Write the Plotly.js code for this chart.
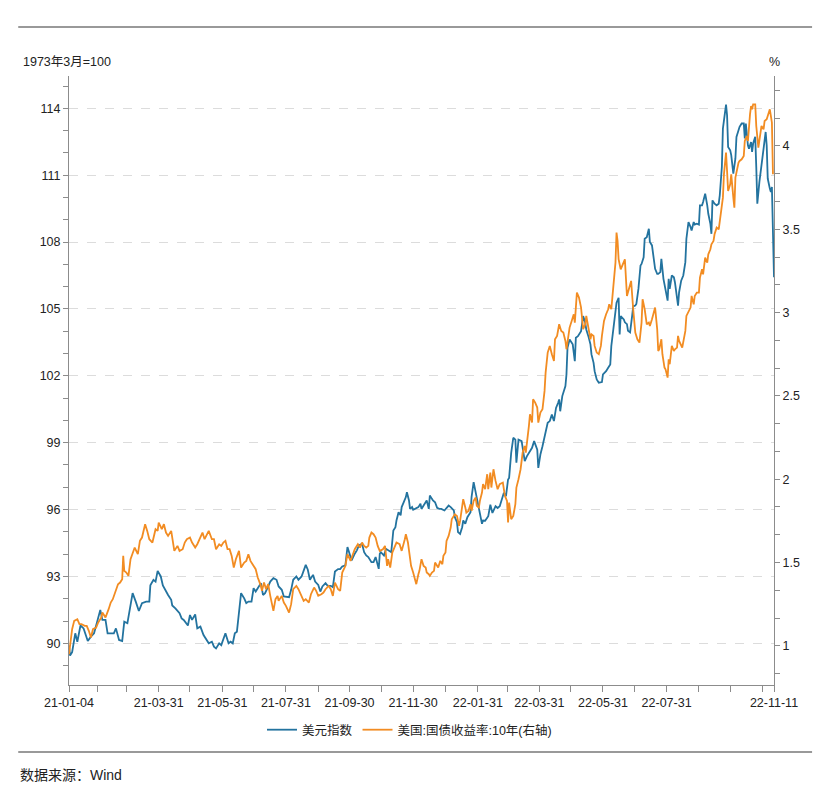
<!DOCTYPE html>
<html>
<head>
<meta charset="utf-8">
<script src="https://cdn.plot.ly/plotly-3.0.1.min.js"></script>
<style>
  html, body { margin: 0; padding: 0; background: #fff; }
  #chart { width: 830px; height: 792px; }
</style>
</head>
<body>
<div id="chart"></div>
<script>
//start date, every day below counts from it
var START = "2021-01-04";

//美元指数: day offset and value
var dxyDay = [
  0, 1, 3, 6, 8, 11, 14, 18, 21, 24,
  27, 30, 32, 35, 37, 40, 43, 45, 48, 51,
  53, 56, 59, 61, 64, 67, 70, 74, 77, 78,
  81, 83, 85, 88, 90, 93, 95, 98, 99, 102,
  106, 108, 110, 114, 116, 118, 121, 123, 126, 129,
  131, 134, 137, 139, 141, 144, 146, 148, 150, 153,
  155, 157, 159, 161, 163, 165, 168, 170, 172, 175,
  177, 179, 181, 184, 186, 188, 191, 193, 196, 199,
  201, 204, 206, 209, 211, 213, 215, 218, 220, 223,
  225, 227, 229, 231, 234, 236, 239, 241, 243, 246,
  248, 251, 253, 255, 258, 260, 262, 265, 267, 270,
  271, 274, 276, 278, 281, 283, 285, 287, 290, 292,
  294, 297, 298, 299, 302, 304, 306, 309, 311, 313,
  314, 316, 318, 319, 321, 323, 324, 326, 327, 329,
  330, 333, 335, 337, 338, 340, 342, 343, 345, 346,
  348, 349, 351, 353, 355, 357, 360, 362, 364, 366,
  369, 370, 372, 373, 375, 377, 378, 380, 382, 385,
  386, 388, 389, 391, 393, 394, 396, 397, 399, 402,
  404, 406, 409, 411, 413, 415, 417, 419, 421, 422,
  424, 426, 428, 429, 431, 434, 435, 437, 439, 441,
  444, 446, 449, 450, 452, 454, 457, 459, 461, 463,
  465, 467, 469, 470, 471, 473, 476, 477, 478, 480,
  483, 485, 486, 488, 491, 493, 495, 496, 498, 500,
  501, 503, 504, 506, 508, 511, 512, 515, 517, 519,
  520, 522, 524, 525, 527, 528, 529, 532, 533, 535,
  536, 538, 540, 541, 543, 544, 546, 548, 549, 551,
  552, 554, 556, 557, 559, 560, 562, 564, 565, 567,
  568, 570, 572, 573, 574, 575, 576, 578, 580, 581,
  583, 584, 585, 587, 589, 591, 592, 594, 596, 597,
  599, 600, 602, 604, 605, 607, 608, 610, 612, 613,
  615, 616, 617, 619, 621, 623, 624, 626, 627, 628,
  630, 631, 632, 634, 635, 637, 639, 640, 642, 643,
  645, 647, 648, 649, 651, 652, 654, 655, 656, 658,
  659, 660, 662, 663, 665, 667, 668, 669, 670, 672,
  673, 674, 675, 676
];
var dxyValue = [
  89.9, 89.45, 89.6, 90.45, 90.07, 90.8, 90.67, 90.1, 90.3, 90.45,
  90.97, 91.5, 91.05, 91.05, 90.45, 90.45, 90.45, 90.67, 90.15, 90.1,
  90.97, 90.9, 91.65, 92.25, 91.87, 91.45, 91.8, 91.87, 91.87, 92.6,
  92.85, 92.77, 93.25, 93.0, 92.6, 92.3, 92.17, 91.95, 91.7, 91.57,
  91.35, 91.12, 91.05, 90.8, 91.27, 91.05, 91.3, 90.67, 90.75, 90.37,
  90.22, 90.0, 90.07, 89.85, 89.77, 90.0, 89.92, 90.15, 90.45, 90.0,
  90.07, 90.0, 90.45, 90.52, 91.35, 92.25, 92.02, 91.8, 91.87, 91.87,
  92.47, 92.32, 92.47, 92.7, 92.17, 92.25, 92.55, 92.77, 92.92, 92.85,
  92.55, 92.4, 92.1, 92.07, 92.07, 92.4, 92.85, 93.0, 92.85, 93.0,
  93.22, 93.52, 93.3, 92.85, 93.07, 92.77, 92.62, 92.32, 92.55, 92.7,
  92.58, 92.58, 92.52, 93.22, 93.33, 93.33, 93.45, 93.5, 94.32, 93.87,
  93.72, 94.02, 94.17, 94.39, 94.46, 94.09, 93.94, 93.87, 93.64, 93.64,
  93.87, 93.34, 94.02, 94.09, 93.94, 94.24, 94.17, 94.09, 95.06, 95.21,
  95.51, 95.88, 95.74, 96.11, 96.33, 96.56, 96.78, 96.41, 96.03, 96.11,
  95.99, 96.08, 96.11, 96.26, 96.03, 96.18, 96.33, 96.41, 96.03, 96.63,
  96.48, 96.41, 96.33, 96.08, 96.03, 96.03, 95.96, 96.08, 96.18, 96.11,
  95.96, 95.66, 95.44, 94.99, 94.91, 95.21, 95.51, 95.36, 95.66, 95.88,
  96.56, 97.23, 97.0, 96.48, 95.96, 95.81, 95.36, 95.51, 95.5, 95.7,
  96.22, 95.85, 96.15, 96.07, 96.15, 96.45, 96.75, 96.6, 97.35, 97.42,
  98.54, 99.22, 99.14, 98.1, 99.14, 99.07, 98.77, 98.17, 98.39, 98.54,
  98.77, 99.07, 98.69, 97.87, 98.47, 98.84, 99.52, 99.89, 99.97, 100.26,
  99.97, 100.56, 100.79, 100.94, 100.41, 101.09, 101.54, 102.06, 103.26, 103.63,
  103.41, 102.66, 103.71, 103.78, 104.0, 104.68, 104.38, 104.08, 103.78, 103.41,
  102.96, 102.58, 102.21, 101.84, 101.69, 101.72, 102.06, 102.21, 102.36, 102.51,
  103.33, 104.23, 104.98, 105.28, 105.5, 103.86, 104.68, 104.53, 104.4, 104.32,
  104.02, 103.95, 104.7, 105.12, 105.15, 105.22, 105.9, 106.95, 107.02, 107.32,
  108.15, 108.22, 108.6, 108.0, 107.85, 107.4, 106.8, 106.57, 106.57, 106.65,
  107.25, 106.35, 105.75, 105.6, 105.37, 106.35, 105.9, 106.5, 106.42, 106.2,
  105.37, 105.15, 105.75, 106.27, 106.5, 107.1, 108.15, 108.9, 108.67, 108.52,
  108.9, 108.78, 108.82, 108.78, 109.65, 109.65, 109.8, 110.17, 109.65, 109.27,
  108.82, 108.37, 109.87, 109.72, 109.65, 109.72, 110.1, 111.37, 113.09, 113.54,
  114.17, 113.69, 112.27, 112.12, 111.9, 111.07, 111.75, 112.72, 113.09, 113.17,
  113.32, 113.32, 112.65, 113.32, 112.34, 112.19, 112.49, 112.04, 112.42, 112.72,
  111.37, 109.72, 110.7, 111.07, 111.6, 112.42, 112.94, 112.34, 110.85, 110.4,
  110.25, 110.47, 108.2, 106.42
];

//美国:国债收益率:10年, %: day offset and value
var ust10Day = [
  0, 3, 5, 8, 10, 12, 15, 17, 19, 21,
  23, 26, 28, 31, 32, 35, 38, 40, 42, 44,
  47, 49, 51, 52, 53, 55, 57, 59, 61, 63,
  66, 68, 70, 73, 75, 77, 80, 83, 85, 86,
  89, 91, 93, 95, 98, 100, 101, 104, 106, 109,
  111, 113, 116, 118, 121, 123, 125, 128, 130, 134,
  137, 139, 141, 144, 146, 148, 150, 152, 154, 156,
  158, 160, 163, 165, 168, 170, 172, 174, 176, 179,
  181, 184, 185, 187, 189, 191, 193, 195, 196, 198,
  200, 201, 204, 206, 208, 211, 213, 215, 218, 220,
  223, 225, 227, 230, 232, 235, 237, 239, 242, 244,
  246, 249, 251, 253, 255, 258, 260, 262, 265, 267,
  270, 272, 274, 277, 279, 281, 283, 285, 287, 288,
  290, 292, 294, 296, 298, 301, 303, 305, 306, 308,
  310, 312, 314, 317, 319, 322, 323, 325, 327, 328,
  330, 331, 333, 335, 336, 338, 340, 342, 343, 345,
  346, 348, 350, 351, 353, 354, 356, 358, 359, 361,
  362, 364, 366, 367, 369, 370, 372, 374, 375, 377,
  378, 380, 381, 383, 385, 386, 388, 390, 391, 393,
  394, 396, 397, 399, 401, 402, 404, 405, 407, 409,
  411, 413, 416, 418, 420, 421, 422, 424, 426, 428,
  429, 431, 433, 435, 437, 438, 440, 441, 442, 444,
  445, 447, 449, 450, 452, 454, 456, 457, 459, 461,
  463, 465, 466, 468, 470, 472, 474, 476, 477, 479,
  480, 482, 484, 485, 486, 487, 489, 491, 493, 495,
  496, 498, 500, 501, 503, 504, 506, 508, 510, 511,
  513, 515, 517, 518, 520, 521, 522, 524, 525, 526,
  527, 529, 531, 533, 535, 537, 539, 541, 543, 545,
  547, 549, 550, 552, 554, 556, 557, 559, 560, 562,
  564, 565, 566, 568, 569, 571, 572, 574, 575, 576,
  578, 580, 581, 583, 584, 585, 588, 589, 591, 592,
  594, 596, 597, 599, 600, 602, 604, 605, 607, 608,
  610, 612, 613, 615, 616, 618, 619, 621, 623, 624,
  625, 627, 628, 629, 630, 631, 632, 634, 635, 637,
  638, 639, 641, 642, 643, 645, 647, 648, 650, 651,
  653, 654, 655, 656, 658, 659, 661, 663, 664, 666,
  667, 669, 671, 672, 674, 675
];
var ust10Value = [
  0.95, 1.1, 1.15, 1.16, 1.13, 1.13, 1.12, 1.12, 1.09, 1.05,
  1.1, 1.11, 1.14, 1.17, 1.2, 1.17, 1.22, 1.26, 1.28, 1.32,
  1.37, 1.38, 1.4, 1.54, 1.45, 1.44, 1.42, 1.52, 1.56, 1.59,
  1.55, 1.63, 1.65, 1.73, 1.69, 1.64, 1.62, 1.7, 1.69, 1.74,
  1.7, 1.73, 1.68, 1.66, 1.69, 1.62, 1.57, 1.6, 1.57, 1.58,
  1.62, 1.64, 1.65, 1.62, 1.59, 1.61, 1.64, 1.68, 1.64, 1.69,
  1.64, 1.64, 1.58, 1.61, 1.6, 1.62, 1.63, 1.58, 1.58, 1.54,
  1.47, 1.52, 1.57, 1.47, 1.5, 1.51, 1.55, 1.51, 1.49, 1.46,
  1.41, 1.36, 1.33, 1.38, 1.34, 1.37, 1.3, 1.25, 1.21, 1.28,
  1.3, 1.27, 1.3, 1.26, 1.24, 1.2, 1.25, 1.34, 1.36, 1.34,
  1.3, 1.27, 1.28, 1.26, 1.31, 1.35, 1.33, 1.3, 1.31, 1.32,
  1.34, 1.36, 1.34, 1.3, 1.38, 1.34, 1.33, 1.44, 1.48, 1.55,
  1.51, 1.55, 1.58, 1.61, 1.59, 1.62, 1.6, 1.59, 1.6, 1.65,
  1.68, 1.67, 1.65, 1.6, 1.57, 1.58, 1.6, 1.48, 1.52, 1.47,
  1.56, 1.59, 1.62, 1.61, 1.57, 1.64, 1.67, 1.62, 1.54, 1.48,
  1.44, 1.42, 1.37, 1.43, 1.45, 1.52, 1.48, 1.47, 1.44, 1.43,
  1.42, 1.44, 1.45, 1.5, 1.48, 1.47, 1.51, 1.49, 1.54, 1.56,
  1.63, 1.66, 1.71, 1.76, 1.78, 1.79, 1.78, 1.72, 1.75, 1.82,
  1.88, 1.83, 1.8, 1.81, 1.85, 1.81, 1.87, 1.89, 1.84, 1.83,
  1.87, 1.92, 1.97, 1.94, 2.03, 1.94, 2.04, 1.95, 2.06, 1.99,
  1.94, 1.97, 1.98, 1.9, 1.87, 1.74, 1.86, 1.76, 1.78, 1.85,
  1.95, 2.0, 2.06, 2.16, 2.2, 2.16, 2.25, 2.32, 2.39, 2.34,
  2.48, 2.46, 2.43, 2.34, 2.4, 2.42, 2.53, 2.64, 2.76, 2.8,
  2.75, 2.71, 2.84, 2.86, 2.93, 2.89, 2.88, 2.83, 2.78, 2.86,
  2.91, 2.95, 2.99, 2.94, 3.04, 3.12, 3.09, 3.03, 2.9, 2.93,
  2.98, 2.91, 2.84, 2.87, 2.86, 2.8, 2.76, 2.75, 2.8, 2.86,
  2.95, 2.99, 3.02, 3.05, 3.02, 3.09, 3.18, 3.3, 3.48, 3.43,
  3.32, 3.26, 3.29, 3.32, 3.1, 3.15, 3.19, 3.02, 2.88, 2.84,
  2.82, 2.94, 3.08, 3.02, 2.93, 2.94, 2.92, 2.96, 2.99, 3.03,
  2.9, 2.77, 2.78, 2.84, 2.75, 2.67, 2.66, 2.61, 2.72, 2.69,
  2.8, 2.77, 2.78, 2.79, 2.86, 2.83, 2.79, 2.83, 2.89, 2.98,
  3.01, 3.03, 3.1, 3.05, 3.1, 3.12, 3.12, 3.21, 3.26, 3.23,
  3.33, 3.3, 3.35, 3.38, 3.41, 3.43, 3.47, 3.51, 3.5, 3.55,
  3.6, 3.69, 3.83, 3.91, 3.96, 3.85, 3.73, 3.77, 3.83, 3.69,
  3.63, 3.81, 3.88, 3.9, 3.91, 3.92, 3.94, 4.03, 4.06, 4.03,
  4.19, 4.24, 4.22, 4.25, 4.25, 4.12, 3.99, 4.07, 4.12, 4.1,
  4.15, 4.16, 4.2, 4.22, 4.14, 3.83
];

//x axis: labelled dates and month-end minor ticks
var xTickDates = [
  "2021-01-04", "2021-03-31", "2021-05-31", "2021-07-31", "2021-09-30", "2021-11-30",
  "2022-01-31", "2022-03-31", "2022-05-31", "2022-07-31", "2022-11-11"
];
var xMinorDates = [
  "2021-01-31", "2021-02-28", "2021-04-30", "2021-06-30", "2021-08-31", "2021-10-31",
  "2021-12-31", "2022-02-28", "2022-04-30", "2022-06-30", "2022-08-31", "2022-09-30",
  "2022-10-31"
];

/*
day offset -> yyyy-mm-dd
*/
function toDate(offset) {
  var d = new Date(START + "T00:00:00Z");
  d.setUTCDate(d.getUTCDate() + offset);
  return d.toISOString().slice(0, 10);
}

//"2021-03-31" -> "21-03-31"
function shortLabel(s) {
  return s.slice(2);
}

var FONT = "Liberation Sans, Arial, Noto Sans CJK SC, sans-serif";
var AXIS = "#8c8c8c";

var traces = [
  {
    x: dxyDay.map(toDate),
    y: dxyValue,
    name: "美元指数",
    type: "scatter",
    mode: "lines",
    line: { color: "#23739f", width: 1.8 },
    yaxis: "y",
  },
  {
    x: ust10Day.map(toDate),
    y: ust10Value,
    name: "美国:国债收益率:10年(右轴)",
    type: "scatter",
    mode: "lines",
    line: { color: "#f28c22", width: 1.8 },
    yaxis: "y2",
  },
];

var layout = {
  width: 830,
  height: 792,
  margin: { l: 68.5, r: 56, t: 76, b: 107 },
  paper_bgcolor: "#fff",
  plot_bgcolor: "#fff",
  font: { family: FONT, size: 12, color: "#222" },
  showlegend: true,
  legend: {
    orientation: "h",
    x: 0.483,
    xanchor: "center",
    y: -0.074,
    yanchor: "middle",
    font: { family: FONT, size: 12.5, color: "#222" },
    itemwidth: 30,
    tracegroupgap: 0,
  },
  xaxis: {
    type: "date",
    range: ["2021-01-04", "2022-11-11"],
    tickmode: "array",
    tickvals: xTickDates,
    ticktext: xTickDates.map(shortLabel),
    ticks: "outside",
    ticklen: 6,
    tickcolor: AXIS,
    showline: true,
    linecolor: AXIS,
    linewidth: 1,
    showgrid: false,
    zeroline: false,
    tickfont: { family: FONT, size: 12.5, color: "#222" },
    minor: {
      tickmode: "array",
      tickvals: xMinorDates,
      ticks: "outside",
      ticklen: 6,
      tickcolor: AXIS,
      showgrid: false,
    },
  },
  yaxis: {
    range: [88.13, 115.45],
    tick0: 90,
    dtick: 3,
    ticks: "outside",
    ticklen: 5,
    tickcolor: AXIS,
    showline: true,
    linecolor: AXIS,
    showgrid: true,
    gridcolor: "#dcdcdc",
    griddash: "dash",
    zeroline: false,
    tickfont: { family: FONT, size: 12.5, color: "#222" },
    minor: { tick0: 90, dtick: 1, ticks: "outside", ticklen: 5, tickcolor: AXIS, showgrid: false },
  },
  yaxis2: {
    overlaying: "y",
    side: "right",
    range: [0.765, 4.42],
    tick0: 1,
    dtick: 0.5,
    ticks: "outside",
    ticklen: 5,
    tickcolor: AXIS,
    showline: true,
    linecolor: AXIS,
    showgrid: false,
    zeroline: false,
    tickfont: { family: FONT, size: 12.5, color: "#222" },
    minor: { tick0: 1, dtick: 0.5 / 3, ticks: "outside", ticklen: 5, tickcolor: AXIS, showgrid: false },
  },
  shapes: [
    //top and bottom rules
    { type: "line", xref: "paper", yref: "paper", x0: -0.072, x1: 1.054, y0: 1.0805, y1: 1.0805, line: { color: "#777", width: 1.5 } },
    { type: "line", xref: "paper", yref: "paper", x0: -0.072, x1: 1.054, y0: -0.11, y1: -0.11, line: { color: "#777", width: 1.5 } },
  ],
  annotations: [
    { text: "1973年3月=100", xref: "paper", yref: "paper", x: -0.068, y: 1.023, xanchor: "left", yanchor: "middle", showarrow: false, font: { family: FONT, size: 12.5, color: "#222" } },
    { text: "%", xref: "paper", yref: "paper", x: 1, y: 1.023, xanchor: "center", yanchor: "middle", showarrow: false, font: { family: FONT, size: 12.5, color: "#222" } },
    { text: "数据来源：Wind", xref: "paper", yref: "paper", x: -0.072, y: -0.148, xanchor: "left", yanchor: "middle", showarrow: false, font: { family: FONT, size: 14, color: "#222" } },
  ],
};

Plotly.newPlot("chart", traces, layout, { displayModeBar: false, staticPlot: true });
</script>
</body>
</html>
